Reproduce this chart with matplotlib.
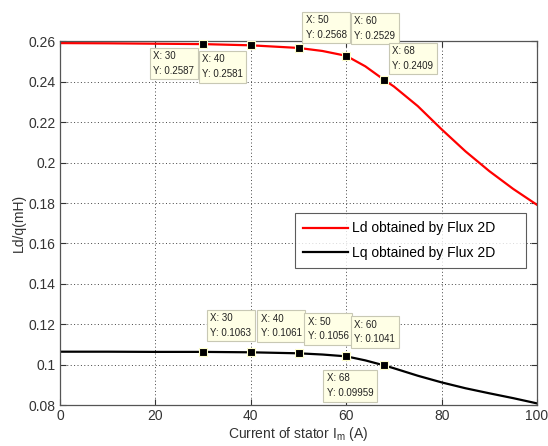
import matplotlib
matplotlib.use("Agg")
import matplotlib.pyplot as plt

plt.rcParams['font.family'] = ['Liberation Sans', 'DejaVu Sans']

current = [0, 10, 20, 30, 40, 50, 55, 60, 64, 68, 70, 75, 80, 85, 90, 95, 100]
ld = [0.2592, 0.2591, 0.2589, 0.2587, 0.2581, 0.2568, 0.2553, 0.2529, 0.2477, 0.2409,
      0.2377, 0.2280, 0.2165, 0.2056, 0.1958, 0.1870, 0.1791]
lq = [0.1064, 0.1064, 0.1063, 0.1063, 0.1061, 0.1056, 0.1050, 0.1041, 0.1021, 0.09959,
      0.0982, 0.0945, 0.0912, 0.0883, 0.0858, 0.0834, 0.0808]

tip_x = [30, 40, 50, 60, 68]
ld_tip = [0.2587, 0.2581, 0.2568, 0.2529, 0.2409]
lq_tip = [0.1063, 0.1061, 0.1056, 0.1041, 0.09959]
ld_tip_txt = ["0.2587", "0.2581", "0.2568", "0.2529", "0.2409"]
lq_tip_txt = ["0.1063", "0.1061", "0.1056", "0.1041", "0.09959"]

xticks = [0, 20, 40, 60, 80, 100]
yticks = [0.08, 0.1, 0.12, 0.14, 0.16, 0.18, 0.2, 0.22, 0.24, 0.26]
ytick_labels = ["0.08", "0.1", "0.12", "0.14", "0.16", "0.18", "0.2", "0.22", "0.24", "0.26"]

fig = plt.figure(figsize=(5.48, 4.46), dpi=100)
ax = fig.add_axes([0.1095, 0.0919, 0.8705, 0.8151])

ax.plot(current, ld, color='red', lw=1.6, label='Ld obtained by Flux 2D')
ax.plot(current, lq, color='black', lw=1.6, label='Lq obtained by Flux 2D')

ax.set_xlim(0, 100)
ax.set_ylim(0.08, 0.26)
ax.set_xticks(xticks)
ax.set_yticks(yticks)
ax.set_yticklabels(ytick_labels)
ax.tick_params(direction='in', top=True, right=True, labelsize=10, colors='#333333',
               length=4, pad=3)
for s in ax.spines.values():
    s.set_color('#555555')
    s.set_linewidth(0.9)
ax.grid(True, linestyle=(0, (1, 2.5)), color='#444444', linewidth=0.7)

ax.set_xlabel('Current of stator I$_\\mathregular{m}$ (A)', fontsize=10, color='#333333', labelpad=1)
ax.set_ylabel('Ld/q(mH)', fontsize=10, color='#333333', labelpad=2)

leg = ax.legend(loc='upper left', bbox_to_anchor=(0.4927, 0.382, 0.4843, 0.146), mode='expand',
                borderaxespad=0, fontsize=10, frameon=True, fancybox=False,
                handlelength=3.2, handletextpad=0.3, borderpad=0.6,
                labelspacing=0.75, edgecolor='#333333')
leg.get_frame().set_linewidth(0.8)

bbox = dict(boxstyle='square,pad=0.35', fc='#ffffe6', ec='#c8c8b4', lw=0.8)

ld_offsets = [(-9, -7, 'right', 'top'), (-8, -9, 'right', 'top'), (7, 8, 'left', 'bottom'),
              (8, 15, 'left', 'bottom'), (8, 9, 'left', 'bottom')]
lq_offsets = [(7, 14, 'left', 'bottom'), (10, 14, 'left', 'bottom'), (9, 12, 'left', 'bottom'),
              (8, 12, 'left', 'bottom'), (-11, -8, 'right', 'top')]

for x, y, t, (dx, dy, ha, va) in zip(tip_x, ld_tip, ld_tip_txt, ld_offsets):
    ax.annotate(f"X: {x}\nY: {t}", xy=(x, y), xytext=(dx, dy), textcoords='offset pixels',
                ha=ha, va=va, multialignment='left', fontsize=7, linespacing=1.6,
                color='#222222', bbox=bbox, annotation_clip=False, zorder=5)
for x, y, t, (dx, dy, ha, va) in zip(tip_x, lq_tip, lq_tip_txt, lq_offsets):
    ax.annotate(f"X: {x}\nY: {t}", xy=(x, y), xytext=(dx, dy), textcoords='offset pixels',
                ha=ha, va=va, multialignment='left', fontsize=7, linespacing=1.6,
                color='#222222', bbox=bbox, annotation_clip=False, zorder=5)

ax.plot(tip_x, ld_tip, 's', color='black', ms=6, mec='#ffffcc', mew=0.8, zorder=6, clip_on=False)
ax.plot(tip_x, lq_tip, 's', color='black', ms=6, mec='#ffffcc', mew=0.8, zorder=6, clip_on=False)

fig.savefig('out.png', dpi=100)
